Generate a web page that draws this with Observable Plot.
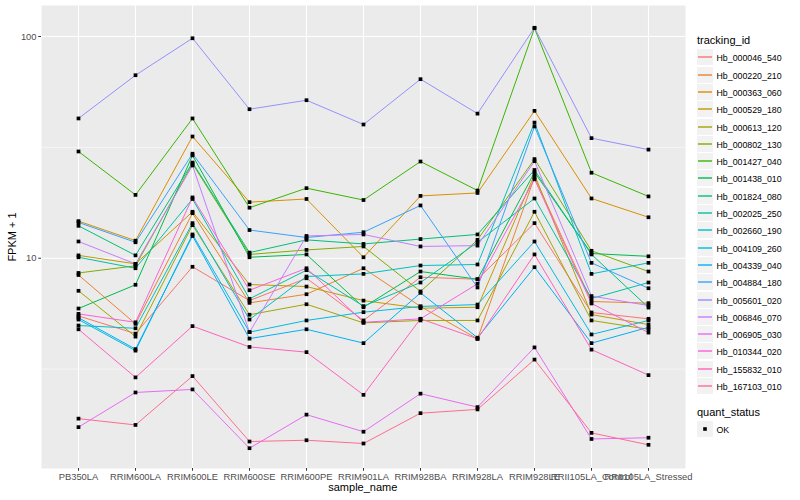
<!DOCTYPE html>
<html><head><meta charset="utf-8">
<script src="https://cdn.jsdelivr.net/npm/d3@7"></script>
<script src="https://cdn.jsdelivr.net/npm/@observablehq/plot@0.6"></script>
<style>
body{margin:0;background:#fff;font-family:"Liberation Sans",Arial,Helvetica,sans-serif;}
#wrap{position:relative;width:800px;height:500px;overflow:hidden;background:#fff;}
#chart{position:absolute;left:0;top:0;}
#chart svg [aria-label="x-axis tick label"] text,#chart svg [aria-label="y-axis tick label"] text{fill:#4D4D4D;}
#chart svg [aria-label="x-axis tick label"],#chart svg [aria-label="y-axis tick label"]{font-size:9.4px;}
#chart svg [aria-label="x-axis tick"],#chart svg [aria-label="y-axis tick"]{stroke:#333333;}
.ttl{position:absolute;font-size:11px;color:#000;white-space:nowrap;}
.lab{position:absolute;font-size:8.8px;color:#000;white-space:nowrap;line-height:10px;}
.key{position:absolute;width:16px;height:16px;background:#F2F2F2;}
.key svg{display:block;}
</style></head>
<body><div id="wrap"><div id="chart"></div></div>
<script>
const categories = ["PB350LA","RRIM600LA","RRIM600LE","RRIM600SE","RRIM600PE","RRIM901LA","RRIM928BA","RRIM928LA","RRIM928LE","RRII105LA_Control","RRII105LA_Stressed"];
const seriesIds = ["Hb_000046_540","Hb_000220_210","Hb_000363_060","Hb_000529_180","Hb_000613_120","Hb_000802_130","Hb_001427_040","Hb_001438_010","Hb_001824_080","Hb_002025_250","Hb_002660_190","Hb_004109_260","Hb_004339_040","Hb_004884_180","Hb_005601_020","Hb_006846_070","Hb_006905_030","Hb_010344_020","Hb_155832_010","Hb_167103_010"];
const seriesColors = ["#F8766D","#EA8331","#D89000","#C09B00","#A3A500","#7CAE00","#39B600","#00BB4E","#00BF7D","#00C1A3","#00BFC4","#00BAE0","#00B0F6","#35A2FF","#9590FF","#C77CFF","#E76BF3","#FA62DB","#FF62BC","#FF6C91"];
const quantStatus = ["OK"];
const yMajor = [10, 100];
const yMinor = [3.1623, 31.623];

// FPKM + 1 per sample (same order as categories)
const hb_000046_540 = [5.49, 4.57, 9.15, 6.44, 8.12, 5.24, 8.21, 8.04, 14.4, 5.69, 5.33];
const hb_000220_210 = [8.40, 5.06, 15.96, 6.29, 6.88, 9.01, 6.06, 4.33, 23.2, 6.38, 6.27];
const hb_000363_060 = [14.7, 12.0, 35.4, 17.9, 18.5, 10.1, 19.1, 19.7, 46.2, 18.6, 15.3];
const hb_000529_180 = [10.3, 9.43, 16.2, 7.61, 7.45, 6.44, 5.95, 6.01, 23.8, 5.57, 5.02];
const hb_000613_120 = [7.13, 4.43, 14.1, 5.56, 6.20, 5.11, 5.24, 5.24, 16.2, 5.24, 4.78];
const hb_000802_130 = [8.58, 9.24, 26.7, 10.4, 10.9, 11.3, 7.08, 12.1, 28.0, 10.8, 8.71];
const hb_001427_040 = [30.3, 19.3, 42.7, 16.9, 20.7, 18.3, 27.3, 20.2, 109, 24.3, 19.0];
const hb_001438_010 = [5.93, 7.59, 29.1, 10.1, 10.4, 6.01, 8.71, 8.04, 24.4, 10.5, 10.2];
const hb_001824_080 = [14.0, 10.3, 27.0, 10.6, 12.1, 11.6, 12.2, 12.8, 25.0, 10.4, 5.99];
const hb_002025_250 = [10.1, 9.01, 18.5, 6.56, 8.83, 6.08, 7.77, 11.8, 18.6, 6.58, 7.77];
const hb_002660_190 = [4.97, 4.83, 14.4, 5.29, 8.27, 8.50, 9.27, 9.37, 40.9, 8.50, 9.53];
const hb_004109_260 = [5.29, 3.83, 12.8, 4.64, 5.24, 5.71, 6.06, 6.18, 11.9, 4.53, 5.24];
const hb_004339_040 = [5.39, 3.89, 12.6, 4.34, 4.78, 4.14, 6.98, 4.38, 9.11, 4.14, 4.88];
const hb_004884_180 = [14.5, 11.8, 29.6, 13.4, 12.4, 13.1, 17.3, 7.38, 39.3, 9.53, 7.32];
const hb_005601_020 = [42.7, 66.9, 98.2, 47.0, 51.6, 40.1, 64.2, 44.9, 109.5, 34.8, 30.9];
const hb_006846_070 = [11.9, 9.43, 26.2, 4.64, 12.6, 12.8, 11.3, 11.4, 27.4, 6.75, 6.12];
const hb_006905_030 = [1.73, 2.48, 2.56, 1.39, 1.97, 1.65, 2.45, 2.13, 3.96, 1.53, 1.55];
const hb_010344_020 = [5.61, 5.14, 18.8, 7.17, 9.01, 5.14, 5.33, 7.67, 22.7, 6.25, 4.62];
const hb_155832_010 = [4.78, 2.90, 4.94, 3.98, 3.77, 2.42, 5.33, 4.33, 10.4, 3.87, 2.97];
const hb_167103_010 = [1.89, 1.77, 2.94, 1.49, 1.51, 1.46, 2.00, 2.08, 3.49, 1.63, 1.44];

const seriesValues = [hb_000046_540, hb_000220_210, hb_000363_060, hb_000529_180, hb_000613_120, hb_000802_130, hb_001427_040, hb_001438_010, hb_001824_080, hb_002025_250, hb_002660_190, hb_004109_260, hb_004339_040, hb_004884_180, hb_005601_020, hb_006846_070, hb_006905_030, hb_010344_020, hb_155832_010, hb_167103_010];

const rows = [];
seriesIds.forEach((id, i) => {
  seriesValues[i].forEach((v, j) => rows.push({id, sample: categories[j], value: v, status: quantStatus[0]}));
});

const plot = Plot.plot({
  width: 690, height: 500,
  marginLeft: 41, marginRight: 5, marginTop: 5, marginBottom: 32,
  style: {fontFamily: "'Liberation Sans', Arial, Helvetica, sans-serif", fontSize: "9.4px", background: "white", overflow: "visible"},
  x: {type: "point", domain: categories, padding: 0.6, label: null},
  y: {type: "log", domain: [1.126, 138], label: null},
  color: {domain: seriesIds, range: seriesColors},
  marks: [
    Plot.frame({fill: "#EBEBEB", stroke: null}),
    Plot.ruleY(yMinor, {stroke: "white", strokeWidth: 0.55}),
    Plot.ruleY(yMajor, {stroke: "white", strokeWidth: 1.1}),
    Plot.ruleX(categories, {stroke: "white", strokeWidth: 1.1}),
    Plot.line(rows, {x: "sample", y: "value", z: "id", stroke: "id", strokeWidth: 1}),
    Plot.dot(rows, {x: "sample", y: "value", symbol: "square", r: 2.1, fill: "black", stroke: null}),
    Plot.axisX({tickSize: 2.75, tickPadding: 2.2, label: null}),
    Plot.axisY({ticks: yMajor, tickFormat: d => String(d), tickSize: 2.75, tickPadding: 2.2, label: null})
  ]
});
document.getElementById("chart").appendChild(plot);

const wrap = document.getElementById("wrap");
function addDiv(cls, text, left, top, extra) {
  const d = document.createElement("div");
  d.className = cls;
  if (text != null) d.textContent = text;
  d.style.left = left + "px"; d.style.top = top + "px";
  if (extra) Object.assign(d.style, extra);
  wrap.appendChild(d);
  return d;
}
// axis titles
addDiv("ttl", "sample_name", 362.8, 481, {transform: "translateX(-50%)"});
addDiv("ttl", "FPKM + 1", 12, 236.5, {transform: "translate(-50%,-50%) rotate(-90deg)"});

// legend
addDiv("ttl", "tracking_id", 697, 34);
const step = 17.3, firstTop = 49.3;
seriesIds.forEach((id, i) => {
  const top = Math.round(firstTop + i * step);
  const k = addDiv("key", null, 697, top);
  k.innerHTML = `<svg width="16" height="16"><line x1="1" x2="15" y1="8" y2="8" stroke="${seriesColors[i]}" stroke-width="1.4"/></svg>`;
  addDiv("lab", id, 716.5, top + 3.5);
});
addDiv("ttl", "quant_status", 697, 406);
quantStatus.forEach((s, i) => {
  const top = 421 + i * step;
  const k = addDiv("key", null, 697, top);
  k.innerHTML = `<svg width="16" height="16"><rect x="6.2" y="6.2" width="3.6" height="3.6" fill="#000"/></svg>`;
  addDiv("lab", s, 716.5, top + 3.5);
});
</script></body></html>
